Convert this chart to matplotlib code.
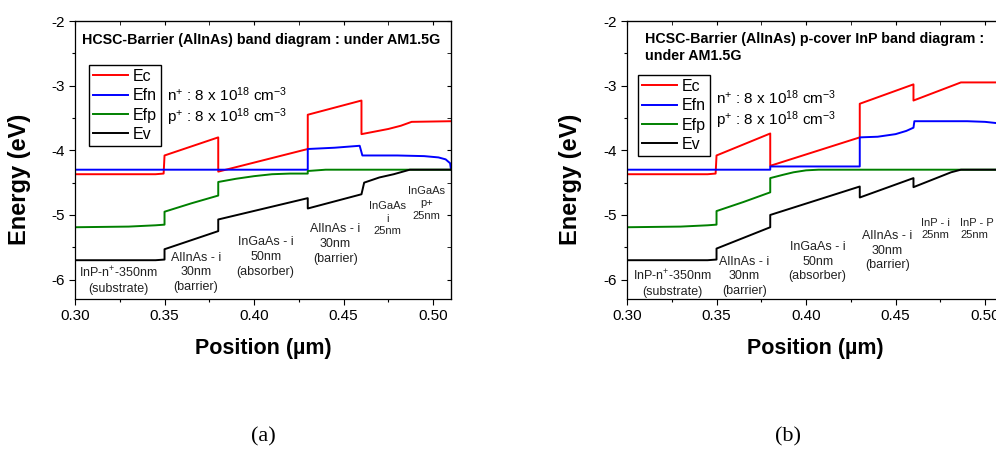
import numpy as np
import matplotlib
matplotlib.use('Agg')
import matplotlib.pyplot as plt
from matplotlib.ticker import MultipleLocator

plt.rcParams['font.family'] = ['Liberation Sans', 'DejaVu Sans']
plt.rcParams['mathtext.fontset'] = 'custom'
plt.rcParams['mathtext.rm'] = 'Liberation Sans'
plt.rcParams['mathtext.it'] = 'Liberation Sans:italic'
plt.rcParams['axes.unicode_minus'] = False

# ---- (a) HCSC barrier AlInAs ----
ec_a_x = [0.30, 0.345, 0.3495, 0.350, 0.380, 0.380, 0.430, 0.430, 0.460, 0.460, 0.475, 0.482, 0.488, 0.510]
ec_a_y = [-4.37, -4.37, -4.36, -4.08, -3.80, -4.33, -3.98, -3.45, -3.23, -3.75, -3.67, -3.62, -3.56, -3.55]

efn_a_x = [0.30, 0.430, 0.430, 0.445, 0.459, 0.4605, 0.480, 0.495, 0.503, 0.507, 0.5095, 0.510]
efn_a_y = [-4.30, -4.30, -3.98, -3.96, -3.93, -4.08, -4.08, -4.09, -4.11, -4.14, -4.20, -4.30]

efp_a_x = [0.30, 0.33, 0.345, 0.350, 0.350, 0.365, 0.380, 0.380, 0.390, 0.400, 0.410, 0.420, 0.430, 0.430, 0.440, 0.510]
efp_a_y = [-5.19, -5.18, -5.16, -5.15, -4.95, -4.82, -4.70, -4.49, -4.44, -4.40, -4.37, -4.36, -4.36, -4.32, -4.30, -4.30]

ev_a_x = [0.30, 0.345, 0.350, 0.350, 0.380, 0.380, 0.430, 0.430, 0.460, 0.4615, 0.470, 0.478, 0.487, 0.510]
ev_a_y = [-5.70, -5.70, -5.69, -5.53, -5.25, -5.07, -4.74, -4.90, -4.68, -4.50, -4.42, -4.37, -4.30, -4.30]

# ---- (b) p-cover InP ----
ec_b_x = [0.30, 0.345, 0.3495, 0.350, 0.380, 0.380, 0.430, 0.430, 0.460, 0.460, 0.4865, 0.510]
ec_b_y = [-4.37, -4.37, -4.36, -4.08, -3.74, -4.24, -3.80, -3.28, -2.98, -3.23, -2.95, -2.95]

efn_b_x = [0.30, 0.380, 0.380, 0.430, 0.430, 0.440, 0.450, 0.456, 0.460, 0.4605, 0.490, 0.500, 0.510]
efn_b_y = [-4.30, -4.30, -4.25, -4.25, -3.80, -3.79, -3.75, -3.70, -3.65, -3.55, -3.55, -3.56, -3.59]

efp_b_x = [0.30, 0.33, 0.345, 0.350, 0.350, 0.365, 0.380, 0.380, 0.387, 0.393, 0.400, 0.407, 0.510]
efp_b_y = [-5.19, -5.18, -5.16, -5.15, -4.94, -4.80, -4.65, -4.43, -4.38, -4.34, -4.31, -4.30, -4.30]

ev_b_x = [0.30, 0.345, 0.350, 0.350, 0.380, 0.380, 0.430, 0.430, 0.460, 0.460, 0.481, 0.4865, 0.510]
ev_b_y = [-5.70, -5.70, -5.69, -5.52, -5.19, -5.00, -4.56, -4.73, -4.43, -4.57, -4.34, -4.30, -4.30]

legend_names = ['Ec', 'Efn', 'Efp', 'Ev']
colors = ['#ff0000', '#0000ff', '#008000', '#000000']

# layer labels: text, x, y, fontsize, ha
layers_a = [('InP-n$^{+}$-350nm\n(substrate)', 0.3245, -6.01, 9, 'center'),
            ('AlInAs - i\n30nm\n(barrier)', 0.3675, -5.89, 9, 'center'),
            ('InGaAs - i\n50nm\n(absorber)', 0.4065, -5.65, 9, 'center'),
            ('AlInAs - i\n30nm\n(barrier)', 0.4455, -5.45, 9, 'center'),
            ('InGaAs\ni\n25nm', 0.4745, -5.06, 8, 'center'),
            ('InGaAs\np+\n25nm', 0.4965, -4.82, 8, 'center')]
layers_b = [('InP-n$^{+}$-350nm\n(substrate)', 0.3255, -6.06, 9, 'center'),
            ('AlInAs - i\n30nm\n(barrier)', 0.3655, -5.95, 9, 'center'),
            ('InGaAs - i\n50nm\n(absorber)', 0.4065, -5.72, 9, 'center'),
            ('AlInAs - i\n30nm\n(barrier)', 0.4455, -5.55, 9, 'center'),
            ('InP - i\n25nm', 0.4643, -5.22, 8, 'left'),
            ('InP - P\n25nm', 0.4860, -5.22, 8, 'left')]

fig = plt.figure(figsize=(9.96, 4.55), dpi=100)
W, H = 996., 455.
ax_a = fig.add_axes([75/W, 1-299/H, 376/W, 278/H])
ax_b = fig.add_axes([627/W, 1-299/H, 376/W, 278/H])

def setup(ax, curves, layers, title, tx, ty, lx, ly, dx, nx, dy1, dy2):
    for (x, y), c, n in zip(curves, colors, legend_names):
        ax.plot(x, y, color=c, lw=1.4, label=n)
    ax.set_xlim(0.30, 0.51)
    ax.set_ylim(-6.3, -2)
    ax.xaxis.set_minor_locator(MultipleLocator(0.025))
    ax.yaxis.set_minor_locator(MultipleLocator(0.5))
    ax.set_xticks([0.30, 0.35, 0.40, 0.45, 0.50])
    ax.set_xticklabels(['0.30', '0.35', '0.40', '0.45', '0.50'])
    ax.set_yticks([-6, -5, -4, -3, -2])
    ax.set_yticklabels(['-6', '-5', '-4', '-3', '-2'])
    ax.tick_params(which='major', direction='out', length=4, width=0.8, labelsize=11, pad=3)
    ax.tick_params(which='minor', direction='out', length=2.5, width=0.8)
    # inward ticks on top/right like origin
    ax2 = ax.secondary_xaxis('top')
    ax2.xaxis.set_major_locator(MultipleLocator(0.05))
    ax2.xaxis.set_minor_locator(MultipleLocator(0.025))
    ax2.tick_params(which='both', direction='in', labeltop=False, length=3)
    ax3 = ax.secondary_yaxis('right')
    ax3.yaxis.set_major_locator(MultipleLocator(1))
    ax3.yaxis.set_minor_locator(MultipleLocator(0.5))
    ax3.tick_params(which='both', direction='in', labelright=False, length=3)
    for s in ax.spines.values():
        s.set_linewidth(0.9)
    ax.set_xlabel('Position (\u00b5m)', fontsize=15.5, fontweight='bold')
    ax.xaxis.set_label_coords(0.5, -0.14)
    ax.set_ylabel('Energy (eV)', fontsize=17, fontweight='bold')
    ax.yaxis.set_label_coords(dx, 0.43)
    ax.text(tx, ty, title, transform=ax.transAxes, fontsize=10.3, fontweight='bold',
            va='center', ha='left', linespacing=1.25)
    ax.legend(loc='upper left', bbox_to_anchor=(lx, ly), borderaxespad=0, fontsize=11.5,
              fancybox=False, edgecolor='black', framealpha=1, handlelength=2.2,
              handletextpad=0.3, labelspacing=0.27, borderpad=0.25)
    ax.text(nx, dy1, 'n$^{+}$ : 8 x 10$^{18}$ cm$^{-3}$',
            transform=ax.transAxes, fontsize=11, va='center')
    ax.text(nx, dy2, 'p$^{+}$ : 8 x 10$^{18}$ cm$^{-3}$',
            transform=ax.transAxes, fontsize=11, va='center')
    for t, x, y, fs, ha in layers:
        ax.text(x, y, t, fontsize=fs, ha=ha, va='center', color='#222222', linespacing=1.3)

setup(ax_a, [(ec_a_x, ec_a_y), (efn_a_x, efn_a_y), (efp_a_x, efp_a_y), (ev_a_x, ev_a_y)],
      layers_a, 'HCSC-Barrier (AlInAs) band diagram : under AM1.5G', 0.019, 0.932,
      0.037, 0.842, -0.118, 0.245, 0.734, 0.655)
setup(ax_b, [(ec_b_x, ec_b_y), (efn_b_x, efn_b_y), (efp_b_x, efp_b_y), (ev_b_x, ev_b_y)],
      layers_b, 'HCSC-Barrier (AlInAs) p-cover InP band diagram :\nunder AM1.5G', 0.048, 0.905,
      0.029, 0.806, -0.12, 0.237, 0.723, 0.644)

fig.text(263/W, 1-437/H, '(a)', fontsize=16, family='Liberation Serif', ha='center', va='center')
fig.text(788/W, 1-437/H, '(b)', fontsize=16, family='Liberation Serif', ha='center', va='center')

fig.savefig('out.png', dpi=100)
